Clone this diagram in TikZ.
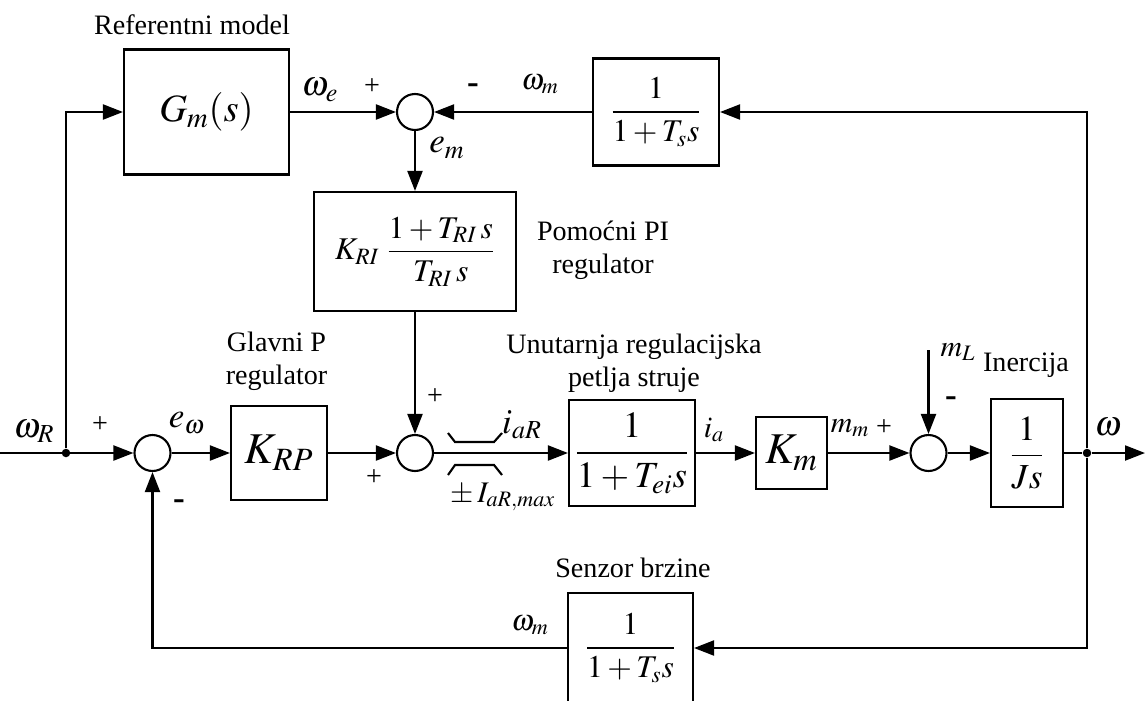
\documentclass[tikz,border=0pt]{standalone}
\usepackage{amsmath}
\usepackage{mathptmx}
\usepackage{fontspec}
\setmainfont{Liberation Serif}
\usetikzlibrary{arrows.meta, positioning, calc}

\begin{document}
\begin{tikzpicture}[
    x=0.02cm, y=-0.02cm,
    block/.style={rectangle, draw, line width=1.2pt, inner sep=0pt, font=\fontsize{20}{24}\selectfont},
    sum/.style={circle, draw, line width=1.2pt, minimum size=0.72cm, inner sep=0pt},
    junction/.style={circle, fill, minimum size=0.17cm, inner sep=0pt},
    arrow/.style={-{Triangle[length=0.4cm, width=0.3cm]}, line width=1.2pt},
    wire/.style={line width=1.2pt},
    note/.style={font=\fontsize{16}{18.8}\selectfont, align=center, inner sep=0pt},
    sig/.style={font=\fontsize{20}{24}\selectfont, inner sep=0pt},
    sigs/.style={font=\fontsize{17}{20}\selectfont, inner sep=0pt},
    sign/.style={font=\fontsize{16}{19}\selectfont, inner sep=0pt},
    minus/.style={font=\fontsize{20}{24}\selectfont\bfseries, inner sep=0pt}
]
    \useasboundingbox (0,0) rectangle (1145,700);

    % main loop
    \coordinate (in) at (0,453);
    \node[junction] (jR) at (66,453) {};
    \node[sum] (s1) at (152.5,453) {};
    \node[block, minimum width=1.92cm, minimum height=1.88cm, font=\fontsize{25}{30}\selectfont] (krp) at (279,453) {$K_{RP}$};
    \node[sum] (s2) at (415,453) {};
    \coordinate (lim) at (475,453);
    \node[block, minimum width=2.52cm, minimum height=2.12cm, font=\fontsize{21}{25}\selectfont] (cur) at (632,453) {$\dfrac{1}{1+T_{ei}s}$};
    \node[block, minimum width=1.42cm, minimum height=1.44cm, font=\fontsize{25}{30}\selectfont] (km) at (791.5,453) {$K_m$};
    \node[sum] (s3) at (928.5,453) {};
    \node[block, minimum width=1.44cm, minimum height=2.16cm] (js) at (1027,453) {$\dfrac{1}{Js}$};
    \node[junction] (jW) at (1087,453) {};
    \coordinate (out) at (1145,453);
    \coordinate (mL) at (928.5,350);

    % reference model and auxiliary loop
    \node[block, minimum width=3.3cm, minimum height=2.5cm, font=\fontsize{22}{26}\selectfont] (gm) at (206.5,112) {$G_m(s)$};
    \node[sum] (s0) at (415,112) {};
    \node[block, minimum width=2.52cm, minimum height=2.14cm, font=\fontsize{18}{22}\selectfont] (fbt) at (656,112) {$\dfrac{1}{1+T_s s}$};
    \node[block, minimum width=4.04cm, minimum height=2.38cm, font=\fontsize{18}{22}\selectfont] (pi) at (415,251.5) {$K_{RI}\;\dfrac{1+T_{RI}\,s}{T_{RI}\,s}$};
    \node[block, minimum width=2.5cm, minimum height=2.2cm, font=\fontsize{18}{22}\selectfont] (sens) at (630.5,648) {$\dfrac{1}{1+T_s s}$};

    % connectors
    \draw[arrow] (in) -- (s1);
    \draw[arrow] (jR) |- (gm.west);
    \draw[arrow] (gm.east) -- (s0);
    \draw[arrow] (fbt.west) -- (s0);
    \draw[arrow] (jW) |- (fbt.east);
    \draw[arrow] (s0) -- (pi);
    \draw[arrow] (pi) -- (s2);
    \draw[arrow] (s1) -- (krp);
    \draw[arrow] (krp) -- (s2);
    \draw[arrow] (s2) -- (cur);
    \draw[arrow] (cur) -- (km);
    \draw[arrow] (km) -- (s3);
    \draw[arrow] (s3) -- (js);
    \draw[wire] (js) -- (jW);
    \draw[arrow] (jW) -- (out);
    \draw[arrow] (mL) -- (s3);
    \draw[arrow] (jW) |- (sens.east);
    \draw[arrow] (sens.west) -| (s1);

    % current limiter
    \draw[wire] ($(lim)+(-27,-20)$) -- ($(lim)+(-20,-11)$) -- ($(lim)+(19,-11)$) -- ($(lim)+(27,-20)$);
    \draw[wire] ($(lim)+(-27,22)$) -- ($(lim)+(-20,12)$) -- ($(lim)+(19,12)$) -- ($(lim)+(27,22)$);

    % texts
    \node[note] (refm) at (192,25) {Referentni model};
    \node[note] (glavni) at (276.5,361.5) {Glavni P\\regulator};
    \node[note] (unut) at (634,363.5) {Unutarnja regulacijska\\petlja struje};
    \node[note] (pomoc) at (603,250) {Pomoćni PI\\regulator};
    \node[note] (senz) at (633,568) {Senzor brzine};
    \node[note] (iner) at (1026,365) {Inercija};

    % signals and signs
    \node[sig] (wR) at (34,431) {$\omega_R$};
    \node[sign] at (100,425) {+};
    \node[sig] (ew) at (187,423) {$e_\omega$};
    \node[minus] at (179,505) {-};
    \node[sign] at (374,478) {+};
    \node[sign] at (435,397) {+};
    \node[sig] (iaR) at (522,425) {$i_{aR}$};
    \node[sigs] (Imax) at (503,497) {$\pm\, I_{aR,max}$};
    \node[sigs] (ia) at (714,430) {$i_a$};
    \node[sigs] (mm) at (850,428) {$m_m$};
    \node[sign] at (884,428) {+};
    \node[sigs] (mLl) at (958,352) {$m_L$};
    \node[minus] at (951,402) {-};
    \node[sig] (w) at (1108,427) {$\omega$};
    \node[sig] (we) at (320,90) {$\omega_e$};
    \node[sign] at (372,87) {+};
    \node[minus] at (473,89) {-};
    \node[sigs] (wmt) at (540,84) {$\omega_m$};
    \node[sig] (em) at (447,148) {$e_m$};
    \node[sigs] (wmb) at (530,625) {$\omega_m$};
\end{tikzpicture}
\end{document}
